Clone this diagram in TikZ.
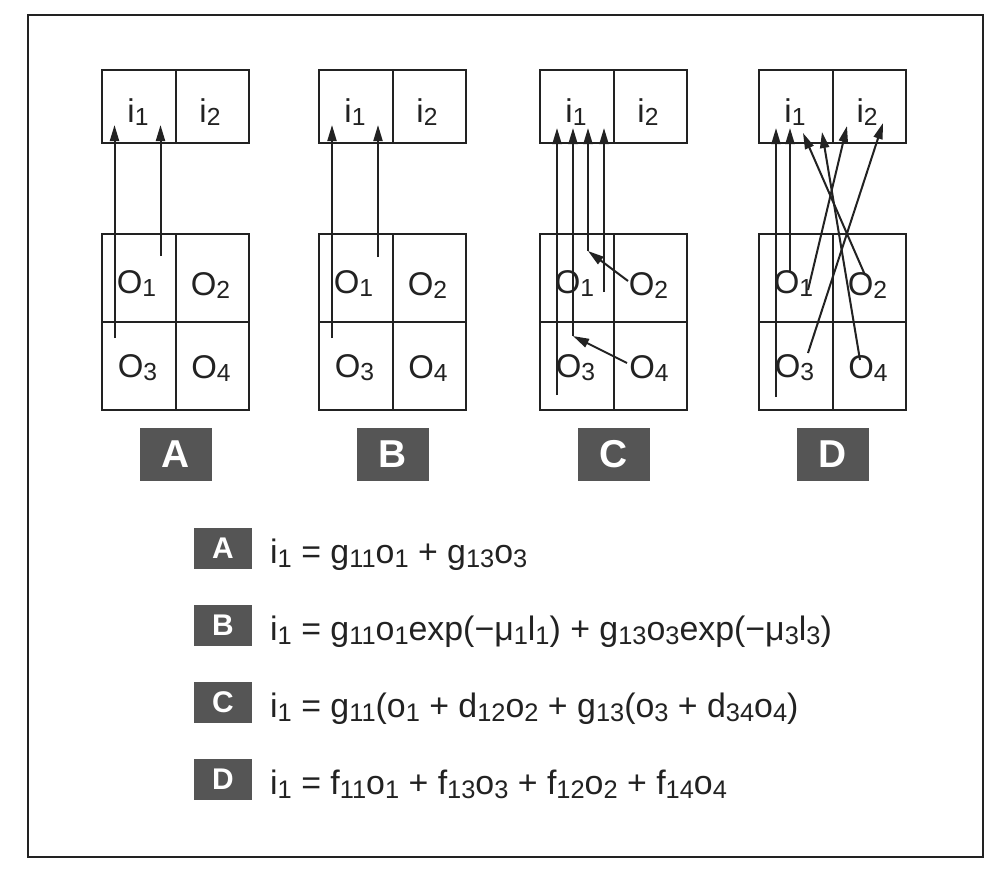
\documentclass[tikz,border=0pt]{standalone}
\usepackage{fontspec}
\setmainfont{Liberation Sans}
\usepackage{graphicx}
\usetikzlibrary{arrows.meta,calc}
\definecolor{ink}{HTML}{222222}
\definecolor{tagfill}{HTML}{555555}
\newcommand\sbs[1]{\raisebox{-0.12em}{\scalebox{0.75}{#1}}}
\tikzset{
  outerframe/.style={draw=ink, line width=2.5bp},
  cellt/.style={draw=ink, line width=2bp, minimum width=73.5bp, minimum height=73bp, inner sep=0pt},
  cellb/.style={draw=ink, line width=2bp, minimum width=73.5bp, minimum height=88bp, inner sep=0pt},
  lbl/.style={text=ink, font=\fontsize{33}{36}\selectfont, anchor=base, inner sep=0pt},
  arr/.style={draw=ink, line width=2bp, -{Triangle[length=16bp,width=9bp]}},
  bigtag/.style={fill=tagfill, text=white, minimum width=72bp, minimum height=53bp, inner sep=0pt, font=\fontsize{39}{40}\selectfont\bfseries},
  smalltag/.style={fill=tagfill, text=white, minimum width=58bp, minimum height=41bp, inner sep=0pt, font=\fontsize{30}{32}\selectfont\bfseries},
  eqn/.style={text=ink, anchor=base west, inner sep=0pt, font=\fontsize{34}{36}\selectfont}
}
\newcommand\panel[3]{%
\begin{scope}[shift={(#2,0)}]
  \node[cellt] (#1-i1) at (36.75,106.5) {};
  \node[cellt] (#1-i2) at (110.25,106.5) {};
  \node[cellb] (#1-o1) at (36.75,278) {};
  \node[cellb] (#1-o2) at (110.25,278) {};
  \node[cellb] (#1-o3) at (36.75,366) {};
  \node[cellb] (#1-o4) at (110.25,366) {};
  \node[lbl] (#1-ti1) at (36,122) {i\sbs{1}};
  \node[lbl] (#1-ti2) at (108,122) {i\sbs{2}};
  \node[lbl] (#1-to1) at (34.5,293) {O\sbs{1}};
  \node[lbl] (#1-to2) at (108.5,295) {O\sbs{2}};
  \node[lbl] (#1-to3) at (35.5,377) {O\sbs{3}};
  \node[lbl] (#1-to4) at (109,378) {O\sbs{4}};
  \node[bigtag] (#1-tag) at (73.5,454.5) {#3};
\end{scope}}
\begin{document}
\begin{tikzpicture}[x=1bp,y=-1bp]
\useasboundingbox (0,0) rectangle (1004,879);
\fill[white] (0,0) rectangle (1004,879);
\draw[outerframe] (28,15) rectangle (983,857);

\panel{A}{102}{A}
\panel{B}{319}{B}
\panel{C}{540}{C}
\panel{D}{759}{D}

% Panel A
\coordinate (A-s1) at (114.5,338); \coordinate (A-e1) at (114.5,125);
\coordinate (A-s2) at (160.5,256); \coordinate (A-e2) at (160.5,125);
\draw[arr] (A-s1) -- (A-e1);
\draw[arr] (A-s2) -- (A-e2);
% Panel B
\coordinate (B-s1) at (332,338); \coordinate (B-e1) at (332,125);
\coordinate (B-s2) at (378,257); \coordinate (B-e2) at (378,125);
\draw[arr] (B-s1) -- (B-e1);
\draw[arr] (B-s2) -- (B-e2);
% Panel C
\coordinate (C-s1) at (557,395); \coordinate (C-e1) at (557,128);
\coordinate (C-s2) at (573,336); \coordinate (C-e2) at (573,128);
\coordinate (C-s3) at (588,251); \coordinate (C-e3) at (588,128);
\coordinate (C-s4) at (604,292); \coordinate (C-e4) at (604,128);
\coordinate (C-d1) at (628,281);
\coordinate (C-d2) at (627,363);
\draw[arr] (C-s1) -- (C-e1);
\draw[arr] (C-s2) -- (C-e2);
\draw[arr] (C-s3) -- (C-e3);
\draw[arr] (C-s4) -- (C-e4);
\draw[arr] (C-d1) -- (C-s3);
\draw[arr] (C-d2) -- (C-s2);
% Panel D
\coordinate (D-s1) at (776,397); \coordinate (D-e1) at (776,128);
\coordinate (D-s2) at (790,272); \coordinate (D-e2) at (790,128);
\coordinate (D-s3) at (865,275); \coordinate (D-e3) at (803,133);
\coordinate (D-s4) at (860,360); \coordinate (D-e4) at (822,132);
\coordinate (D-s5) at (808,290); \coordinate (D-e5) at (847,126);
\coordinate (D-s6) at (808,353); \coordinate (D-e6) at (883,123);
\draw[arr] (D-s1) -- (D-e1);
\draw[arr] (D-s2) -- (D-e2);
\draw[arr] (D-s3) -- (D-e3);
\draw[arr] (D-s4) -- (D-e4);
\draw[arr] (D-s5) -- (D-e5);
\draw[arr] (D-s6) -- (D-e6);

% Equations
\node[smalltag] (eqA) at (223,548.5) {A};
\node[smalltag] (eqB) at (223,625.5) {B};
\node[smalltag] (eqC) at (223,702.5) {C};
\node[smalltag] (eqD) at (223,779.5) {D};
\node[eqn] (txA) at (270,563) {i\sbs{1} = g\sbs{11}o\sbs{1} + g\sbs{13}o\sbs{3}};
\node[eqn] (txB) at (270,640) {i\sbs{1} = g\sbs{11}o\sbs{1}exp(−μ\sbs{1}l\sbs{1}) + g\sbs{13}o\sbs{3}exp(−μ\sbs{3}l\sbs{3})};
\node[eqn] (txC) at (270,717) {i\sbs{1} = g\sbs{11}(o\sbs{1} + d\sbs{12}o\sbs{2} + g\sbs{13}(o\sbs{3} + d\sbs{34}o\sbs{4})};
\node[eqn] (txD) at (270,794) {i\sbs{1} = f\sbs{11}o\sbs{1} + f\sbs{13}o\sbs{3} + f\sbs{12}o\sbs{2} + f\sbs{14}o\sbs{4}};
\end{tikzpicture}
\end{document}
